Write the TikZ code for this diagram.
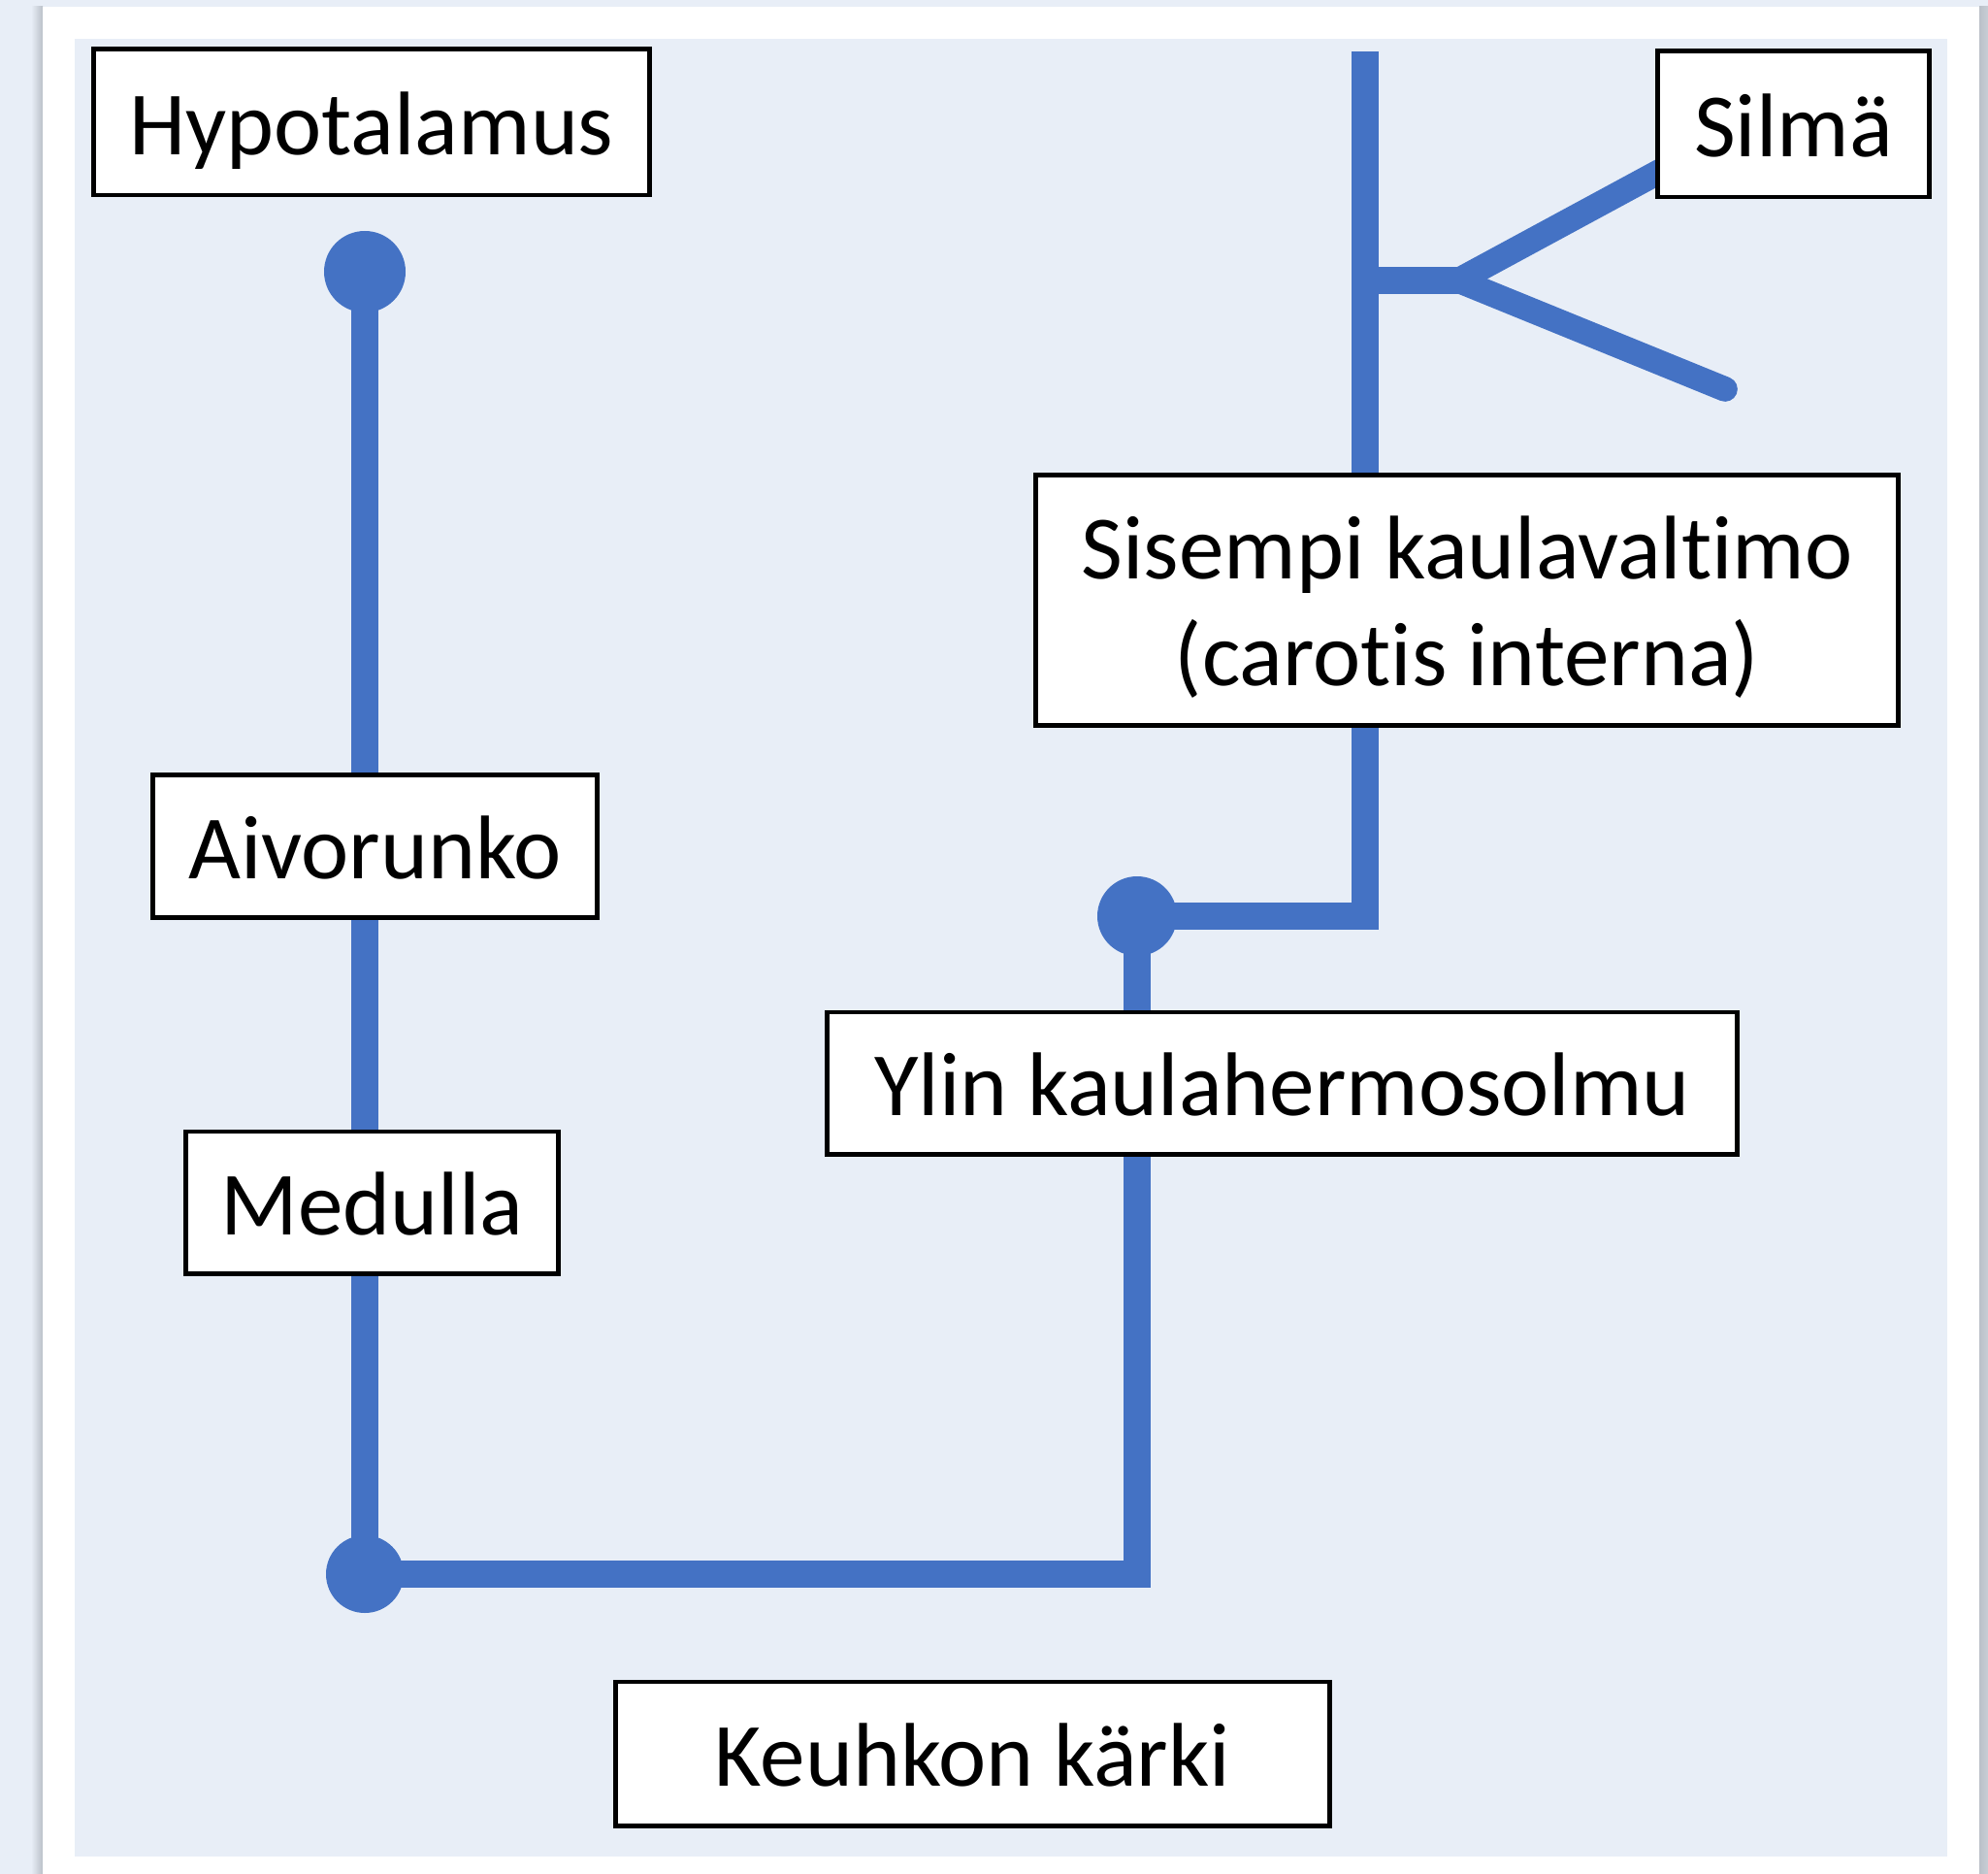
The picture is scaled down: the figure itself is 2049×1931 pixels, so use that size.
\documentclass[tikz,border=0pt]{standalone}
\usepackage{fontspec}
\setmainfont{Carlito}[Ligatures=NoCommon]
\RequirePackage{tikz}
\RequirePackage{tkz-euclide}
\usetikzlibrary{calc}
\usetikzlibrary{backgrounds}

\definecolor{frameblue}{RGB}{232,238,247}
\definecolor{nerveblue}{RGB}{68,114,196}
\definecolor{shadowgray}{RGB}{186,192,200}

\tikzset{
  organ/.style={draw=black,line width=1.4pt,fill=white,inner sep=0pt,align=center,
    font=\fontsize{26.5}{31.3}\selectfont},
  oneline/.style={text height=22pt,text depth=3.2pt},
  nerve/.style={draw=nerveblue,line width=7.7pt},
  ganglion/.style={fill=nerveblue},
}

\begin{document}
\begin{tikzpicture}[x=0.01cm,y=-0.01cm]
                    \useasboundingbox (0,0) rectangle (2049,1931);

                    \tkzDefPoint(376,280){hypoDot}
                    \tkzDefPoint(376,1622){medDot}
                    \tkzDefPoint(1172,944){gangDot}
                    \tkzDefPoint(1407,53){topEnd}
                    \tkzDefPoint(1407,289){fork}
                    \tkzDefPoint(1503,289){split}
                    \tkzDefPoint(1760,150){eyeIn}
                    \tkzDefPoint(1778,401){lowEnd}

                    \node[organ,oneline,minimum width=5.72cm,minimum height=1.50cm] (hypo) at (383,126) {Hypotalamus};
                    \node[organ,oneline,minimum width=2.79cm,minimum height=1.50cm] (silma) at (1848.5,128) {Silmä};
                    \node[organ,oneline,minimum width=4.57cm,minimum height=1.46cm] (aivo) at (386.5,872) {Aivorunko};
                    \node[organ,oneline,minimum width=3.83cm,minimum height=1.46cm] (medulla) at (383.5,1239) {Medulla};
                    \node[organ,minimum width=8.88cm,minimum height=2.57cm] (carotis) at (1512,618.5)
                        {\rule{0pt}{22.5pt}Sisempi kaulavaltimo\\(carotis interna)};
                    \node[organ,oneline,minimum width=9.37cm,minimum height=1.46cm] (ganglio) at (1321.5,1116) {Ylin kaulahermosolmu};
                    \node[organ,oneline,minimum width=7.35cm,minimum height=1.48cm] (keuhko) at (1002.5,1807) {Keuhkon kärki};

                    \begin{pgfonlayer}{background}
                        \fill[frameblue] (0,0) rectangle (2049,1931);
                        \shade[left color=frameblue,right color=shadowgray] (32,7) rectangle (44,1931);
                        \shade[left color=shadowgray,right color=shadowgray!70!frameblue] (2040,7) rectangle (2049,1931);
                        \fill[white] (44,7) rectangle (2040,1931);
                        \fill[frameblue] (77,40) rectangle (2007,1913);

                        \draw[nerve] (hypoDot) -- (medDot);
                        \draw[nerve,line join=miter] (medDot) -| (gangDot);
                        \draw[nerve,line join=miter] (gangDot) -| (topEnd);
                        \draw[nerve] (fork) -- (split);
                        \draw[nerve,line width=7.3pt] (split) -- (eyeIn);
                        \draw[nerve,line width=7.3pt,line cap=round] (split) -- (lowEnd);
                        \fill[ganglion] (hypoDot) circle[radius=42];
                        \fill[ganglion] (medDot) circle[radius=40];
                        \fill[ganglion] (gangDot) circle[radius=41];
                    \end{pgfonlayer}
                \end{tikzpicture}
\end{document}
